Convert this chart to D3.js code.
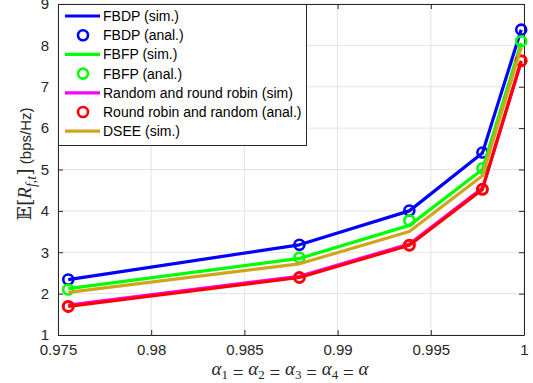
<!DOCTYPE html>
<html>
<head>
<meta charset="utf-8">
<script src="https://cdn.jsdelivr.net/npm/d3@7"></script>
<style>
  body { margin: 0; background: #fff; }
  text { font-family: Arial, "Liberation Sans", sans-serif; }
</style>
</head>
<body>
<svg id="chart" width="533" height="383"></svg>
<script>
// x values (alpha)
let alphas = [0.97555, 0.98795, 0.99385, 0.99777, 0.99985];

let fbdpSim = [2.34, 3.18, 4.0, 5.4, 8.38];
let fbdpAnal = [2.34, 3.18, 4.01, 5.41, 8.38];
let fbfpSim = [2.12, 2.85, 3.65, 5.0, 8.06];
let fbfpAnal = [2.1, 2.87, 3.77, 5.03, 8.1];
let rrSim = [1.72, 2.42, 3.2, 4.55, 7.6];
let rrAnal = [1.69, 2.39, 3.17, 4.52, 7.63];
let dseeSim = [2.03, 2.72, 3.5, 4.85, 7.95];

let xTicks = [0.975, 0.98, 0.985, 0.99, 0.995, 1];
let yTicks = [1, 2, 3, 4, 5, 6, 7, 8, 9];

let series = [
  { name: "FBDP (sim.)", values: fbdpSim, color: "#0000ff", type: "line" },
  { name: "FBDP (anal.)", values: fbdpAnal, color: "#0000ff", type: "marker" },
  { name: "FBFP (sim.)", values: fbfpSim, color: "#00ff00", type: "line" },
  { name: "FBFP (anal.)", values: fbfpAnal, color: "#00ff00", type: "marker" },
  { name: "Random and round robin (sim)", values: rrSim, color: "#ff00ff", type: "line" },
  { name: "Round robin and random (anal.)", values: rrAnal, color: "#ff0000", type: "marker", joined: true },
  { name: "DSEE (sim.)", values: dseeSim, color: "#d2a41c", type: "line" }
];

let svg = d3.select("#chart"),
    margin = { top: 4, right: 9, bottom: 48, left: 58 },
    width = +svg.attr("width"),
    height = +svg.attr("height");

let chartWidth = width - margin.left - margin.right;
let chartHeight = height - margin.top - margin.bottom;

let g = svg.append("g").attr("transform", `translate(${margin.left},${margin.top})`);

let xScale = d3.scaleLinear().domain([0.975, 1]).range([0, chartWidth]);
let yScale = d3.scaleLinear().domain([1, 9]).range([chartHeight, 0]);

// grid
g.append("g").selectAll("line").data(xTicks).enter().append("line")
  .attr("x1", d => xScale(d)).attr("x2", d => xScale(d))
  .attr("y1", 0).attr("y2", chartHeight)
  .attr("stroke", "#e3e3e3").attr("stroke-width", 1);
g.append("g").selectAll("line").data(yTicks).enter().append("line")
  .attr("y1", d => yScale(d)).attr("y2", d => yScale(d))
  .attr("x1", 0).attr("x2", chartWidth)
  .attr("stroke", "#e3e3e3").attr("stroke-width", 1);

// axes
g.append("g").attr("transform", `translate(0,${chartHeight})`)
  .call(d3.axisBottom(xScale).tickValues(xTicks).tickFormat(d => d === 1 ? "1" : d3.format(".3~f")(d)).tickSizeInner(-5).tickSizeOuter(0).tickPadding(9));
g.append("g")
  .call(d3.axisLeft(yScale).tickValues(yTicks).tickSizeInner(-5).tickSizeOuter(0).tickPadding(9));
g.append("g").call(d3.axisTop(xScale).tickValues(xTicks).tickSizeInner(-5).tickSizeOuter(0).tickFormat(""));
g.append("g").attr("transform", `translate(${chartWidth},0)`)
  .call(d3.axisRight(yScale).tickValues(yTicks).tickSizeInner(-5).tickSizeOuter(0).tickFormat(""));

svg.selectAll(".domain").attr("stroke", "#262626").attr("stroke-width", 1);
svg.selectAll(".tick line").attr("stroke", "#262626");
svg.selectAll(".tick text").attr("fill", "#262626").style("font-size", "15px").style("font-family", "Arial, 'Liberation Sans', sans-serif");

// data
let line = d3.line().x((d, i) => xScale(alphas[i])).y(d => yScale(d));

series.forEach(s => {
  if (s.type === "line" || s.joined) {
    g.append("path").datum(s.values)
      .attr("d", line).attr("fill", "none")
      .attr("stroke", s.color).attr("stroke-width", 3.2)
      .attr("stroke-linejoin", "round");
  }
  if (s.type === "marker") {
    g.append("g").selectAll("circle").data(s.values).enter().append("circle")
      .attr("cx", (d, i) => xScale(alphas[i])).attr("cy", d => yScale(d))
      .attr("r", 5).attr("fill", "none")
      .attr("stroke", s.color).attr("stroke-width", s.joined ? 3 : 2.6);
  }
});

// legend
let legend = g.append("g");
legend.append("rect").attr("x", 0.5).attr("y", 0.5).attr("width", 248).attr("height", 141)
  .attr("fill", "#fff").attr("stroke", "#262626").attr("stroke-width", 1);
series.forEach((s, i) => {
  let ly = 12 + i * 19.2;
  if (s.type === "line") {
    legend.append("line").attr("x1", 7).attr("x2", 42).attr("y1", ly).attr("y2", ly)
      .attr("stroke", s.color).attr("stroke-width", 3.2);
  } else {
    legend.append("circle").attr("cx", 25).attr("cy", ly).attr("r", 5)
      .attr("fill", "none").attr("stroke", s.color).attr("stroke-width", 2.6);
  }
  legend.append("text").attr("x", 45).attr("y", ly + 5)
    .style("font-size", "14px").attr("fill", "#000").text(s.name);
});

// y label
let yl = svg.append("text")
  .attr("transform", "translate(31,164) rotate(-90)")
  .attr("text-anchor", "middle").attr("fill", "#262626")
  .style("font-size", "19px");
yl.append("tspan").style("font-family", "'DejaVu Serif', serif").text("𝔼[");
yl.append("tspan").style("font-family", "'Liberation Serif', serif").style("font-style", "italic").text("R");
yl.append("tspan").style("font-family", "'Liberation Serif', serif").style("font-style", "italic").style("font-size", "14px").attr("dy", 5).text("f,t");
yl.append("tspan").style("font-family", "'DejaVu Serif', serif").attr("dy", -5).text("]");
yl.append("tspan").style("font-size", "15px").text(" (bps/Hz)");

// x label
let xl = svg.append("text")
  .attr("x", 290).attr("y", 375).attr("text-anchor", "middle").attr("fill", "#262626")
  .style("font-family", "'Liberation Serif', serif").style("font-size", "19px");
[1, 2, 3, 4].forEach((k, i) => {
  xl.append("tspan").style("font-style", "italic").attr("dy", i === 0 ? 0 : -4).text("α");
  xl.append("tspan").style("font-size", "13px").attr("dy", 4).text(k);
  xl.append("tspan").text(" = ");
});
xl.append("tspan").style("font-style", "italic").attr("dy", -4).text("α");
</script>
</body>
</html>
